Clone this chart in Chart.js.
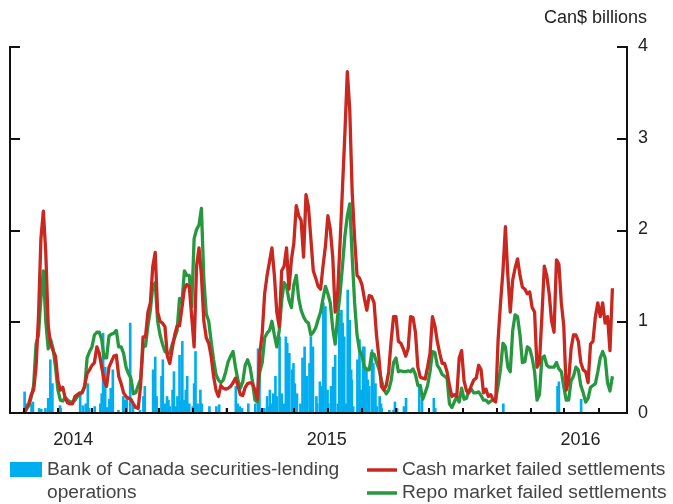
<!DOCTYPE html>
<html>
<head>
<meta charset="utf-8">
<script src="https://cdn.jsdelivr.net/npm/chart.js@4/dist/chart.umd.min.js"></script>
<style>
  html, body { margin: 0; padding: 0; background: #fff; }
  canvas { display: block; }
</style>
</head>
<body>
<canvas id="chart" width="673" height="504"></canvas>
<script>
// half-weekly series, Can$ billions (first point = day 20 of the axis, then every 3.5 days)
const cashFails = [
  0.01, 0.05, 0.1, 0.2, 0.25, 0.5, 1.05, 1.9, 2.2, 1.75,
  0.95, 0.75, 0.68, 0.62, 0.35, 0.25, 0.28, 0.16, 0.11, 0.1,
  0.1, 0.18, 0.2, 0.22, 0.22, 0.3, 0.43, 0.47, 0.52, 0.55,
  0.72, 0.65, 0.5, 0.35, 0.29, 0.5, 0.56, 0.62, 0.63, 0.4,
  0.32, 0.22, 0.18, 0.16, 0.15, 0.1, 0.06, 0.05, 0.3, 0.83,
  0.83, 1.1, 1.2, 1.6, 1.75, 1.1, 1.0, 0.98, 0.94, 0.62,
  0.54, 0.7, 0.85, 0.95, 0.95, 1.15, 1.35, 1.4, 1.38, 1.05,
  0.72, 1.6, 1.8, 1.5, 1.0, 0.82, 0.76, 0.62, 0.4, 0.25,
  0.18, 0.3, 0.27, 0.26, 0.27, 0.29, 0.33, 0.38, 0.3, 0.2,
  0.19, 0.28, 0.32, 0.33, 0.32, 0.25, 0.15, 0.65, 0.87, 1.3,
  1.5, 1.65, 1.8, 1.5, 1.1, 0.94, 1.55, 1.6, 1.8, 1.35,
  1.67, 1.85, 2.26, 2.15, 2.1, 1.7, 2.38, 2.25, 1.9, 1.55,
  1.47, 1.38, 1.35, 1.6, 1.82, 2.15, 2.0, 1.7, 1.1, 1.3,
  1.85, 2.45, 3.05, 3.72, 3.3, 2.4, 1.9, 1.5, 1.47, 1.4,
  1.25, 1.12, 1.28, 1.27, 1.2, 0.85, 0.6, 0.29, 0.25, 0.3,
  0.45, 0.78, 1.05, 1.05, 0.78, 0.76, 0.7, 0.62, 0.7, 1.05,
  1.04, 0.88, 0.5, 0.39, 0.38, 0.37, 0.5, 0.65, 1.05, 0.95,
  0.78, 0.65, 0.54, 0.54, 0.45, 0.3, 0.18, 0.2, 0.18, 0.6,
  0.68, 0.35, 0.24, 0.22, 0.3, 0.36, 0.38, 0.52, 0.47, 0.22,
  0.26, 0.18, 0.2, 0.14, 0.12, 0.8, 1.2, 1.55, 2.03, 1.5,
  1.1, 1.45, 1.58, 1.68, 1.5, 1.37, 1.35, 1.3, 1.32, 1.15,
  1.1, 0.5, 0.55, 1.05, 1.6, 1.5, 1.3, 1.0, 0.88, 1.67,
  1.62, 1.2, 0.95, 0.25, 0.35, 0.7, 0.85, 0.85, 0.78, 0.55,
  0.47, 0.45, 0.33, 0.75, 0.78, 1.05, 1.2, 1.05, 1.2, 0.98,
  1.05, 0.68, 1.36
];
const repoFails = [
  0.0, 0.04, 0.08, 0.17, 0.3, 0.75, 0.85, 1.25, 1.55, 1.0,
  0.7, 0.8, 0.7, 0.5, 0.25, 0.14, 0.13, 0.17, 0.14, 0.12,
  0.12, 0.14, 0.18, 0.2, 0.23, 0.28, 0.6, 0.67, 0.72, 0.85,
  0.88, 0.88, 0.8, 0.6, 0.6, 0.84, 0.86, 0.87, 0.9, 0.72,
  0.72, 0.65, 0.5, 0.43, 0.38, 0.21, 0.22, 0.3, 0.37, 0.72,
  0.73, 0.95, 1.12, 1.38, 1.42, 1.0, 0.85, 0.75, 0.67, 0.65,
  0.65, 0.75, 0.82, 0.9, 1.25, 1.2, 1.55, 1.5, 1.5, 1.16,
  1.9, 2.0, 2.05, 2.23, 1.45, 1.08, 1.0, 0.78, 0.58, 0.42,
  0.36, 0.33, 0.36, 0.45, 0.56, 0.62, 0.67, 0.5, 0.36, 0.27,
  0.34, 0.52, 0.58, 0.5, 0.34, 0.14, 0.12, 0.45, 0.55, 0.82,
  0.87, 0.9, 1.0, 0.85, 0.72, 0.9, 1.22, 1.42, 1.38, 1.23,
  1.15, 1.4, 1.5, 1.25, 1.12, 1.05, 1.0, 0.98, 0.85, 0.88,
  0.93, 1.02, 1.1, 1.25, 1.38, 1.3, 1.2, 0.92, 0.75, 1.05,
  1.3, 1.6, 1.93, 2.15, 2.28, 1.7, 1.2, 0.85, 0.68, 0.63,
  0.5, 0.47, 0.47, 0.65, 0.64, 0.55, 0.48, 0.36, 0.26, 0.21,
  0.25, 0.35, 0.55, 0.6, 0.45, 0.46, 0.45, 0.45, 0.46, 0.45,
  0.48, 0.42, 0.3, 0.3, 0.15, 0.22, 0.3, 0.45, 0.67, 0.66,
  0.52, 0.48, 0.42, 0.4, 0.38, 0.1, 0.06, 0.12, 0.18, 0.12,
  0.27, 0.15, 0.16, 0.25, 0.26, 0.22, 0.22, 0.23, 0.19, 0.14,
  0.14, 0.11, 0.13, 0.14, 0.15, 0.3, 0.48, 0.76, 0.72, 0.5,
  0.45, 0.9, 1.07, 1.05, 0.85, 0.55, 0.56, 0.72, 0.7, 0.6,
  0.45, 0.14, 0.2, 0.6, 0.62, 0.52, 0.5, 0.5, 0.5, 0.55,
  0.48, 0.45, 0.29, 0.14, 0.14, 0.35, 0.4, 0.5, 0.47, 0.3,
  0.22, 0.12, 0.16, 0.28, 0.3, 0.32, 0.45, 0.6, 0.67, 0.6,
  0.33, 0.24, 0.4
];

// securities-lending operations: axis day and amount
const lendingDays = [
  21, 23, 31, 33, 42, 45, 51, 55, 58, 61,
  72, 73, 101, 105, 109, 112, 114, 122, 130, 132,
  134, 137, 140, 143, 145, 148, 156, 163, 166, 168,
  173, 177, 187, 192, 194, 206, 209, 211, 218, 220,
  223, 226, 228, 230, 234, 236, 239, 241, 244, 246,
  248, 251, 253, 255, 258, 263, 265, 267, 270, 274,
  276, 287, 297, 301, 312, 325, 328, 331, 334, 343,
  353, 357, 359, 361, 364, 366, 370, 372, 374, 377,
  379, 382, 384, 388, 391, 394, 397, 399, 402, 406,
  408, 410, 413, 418, 421, 424, 427, 431, 433, 436,
  441, 442, 446, 449, 451, 454, 457, 458, 462, 465,
  468, 472, 474, 477, 479, 481, 484, 486, 489, 491,
  492, 494, 500, 503, 505, 508, 510, 513, 515, 517,
  521, 523, 526, 528, 532, 534, 535, 546, 552, 554,
  557, 567, 570, 589, 593, 610, 612, 710, 788, 790,
  822
];
const lendingValues = [
  0.23, 0.1, 0.1, 0.12, 0.05, 0.04, 0.05, 0.16, 0.58, 0.32,
  0.08, 0.05, 0.2, 0.08, 0.1, 0.32, 0.05, 0.07, 0.1, 0.21,
  0.87, 0.5, 0.06, 0.15, 0.27, 0.47, 0.03, 0.18, 0.14, 0.18,
  0.98, 0.1, 0.03, 0.18, 0.29, 0.47, 0.61, 0.18, 0.4, 0.58,
  0.1, 0.18, 0.14, 0.07, 0.25, 0.45, 0.07, 0.18, 0.63, 0.14,
  0.78, 0.14, 0.25, 0.4, 0.1, 0.07, 0.32, 0.67, 0.1, 0.25,
  0.1, 0.07, 0.07, 0.09, 0.05, 0.29, 0.1, 0.07, 0.05, 0.1,
  0.1, 0.7, 0.61, 0.03, 0.05, 0.05, 0.18, 0.07, 0.25, 0.1,
  0.21, 0.4, 0.18, 0.83, 0.21, 0.1, 0.83, 0.76, 0.65, 0.47,
  0.54, 0.32, 0.21, 0.1, 0.6, 0.72, 0.4, 0.54, 0.83, 0.72,
  0.18, 0.1, 0.34, 0.29, 1.2, 1.16, 0.25, 0.1, 0.29, 0.5,
  0.63, 0.1, 1.09, 1.12, 0.98, 0.83, 0.1, 1.34, 1.01, 0.47,
  0.36, 0.07, 0.58, 0.8, 0.25, 0.72, 0.72, 0.5, 0.36, 0.29,
  0.69, 0.54, 0.32, 0.07, 0.18, 0.1, 0.05, 0.03, 0.03, 0.12,
  0.05, 0.07, 0.16, 0.29, 0.14, 0.16, 0.05, 0.1, 0.29, 0.34,
  0.15
];

const yearLabels = ['2014', '2015', '2016'];
const yearTickDays = [91, 456, 821];
const minorTickDays = [20, 69, 118, 167, 215, 264, 313, 362, 409, 458, 507, 556, 603, 652, 701, 750, 798, 847];
const yTicks = [1, 2, 3, 4];
const firstDay = 20;
const stepDays = 3.5;

const FONT = "'Liberation Sans', Arial, Helvetica, sans-serif";
const RED = '#c8281f';
const GREEN = '#27983f';
const CYAN = '#00aeef';

Chart.defaults.font.family = FONT;

function toPoints(values) {
  return values.map((v, i) => ({ x: firstDay + stepDays * i, y: v }));
}

const framePlugin = {
  id: 'frame',
  afterDatasetsDraw(chart) {
    const { ctx, chartArea: a } = chart;
    const xs = chart.scales.x;
    const ys = chart.scales.y;
    ctx.save();
    ctx.strokeStyle = '#111';
    ctx.lineWidth = 2;
    ctx.beginPath();
    ctx.moveTo(a.left, a.top);
    ctx.lineTo(a.left, a.bottom);
    ctx.lineTo(a.right, a.bottom);
    ctx.lineTo(a.right, a.top);
    yTicks.forEach(v => {
      const py = Math.round(ys.getPixelForValue(v)) + 1;
      ctx.moveTo(a.left, py);
      ctx.lineTo(a.left + 10, py);
      ctx.moveTo(a.right - 10, py);
      ctx.lineTo(a.right, py);
    });
    minorTickDays.forEach(d => {
      const px = Math.round(xs.getPixelForValue(d));
      ctx.moveTo(px, a.bottom - 5);
      ctx.lineTo(px, a.bottom);
    });
    ctx.stroke();
    ctx.restore();
  },
  afterDraw(chart) {
    const ctx = chart.ctx;
    ctx.save();
    ctx.textBaseline = 'middle';
    ctx.fillStyle = '#222';
    ctx.font = '18px ' + FONT;
    ctx.textAlign = 'right';
    ctx.fillText('Can$ billions', 647, 18);

    ctx.textAlign = 'left';
    ctx.font = '19.2px ' + FONT;
    ctx.fillStyle = '#444';
    ctx.fillText('Bank of Canada securities-lending', 47, 470);
    ctx.fillText('operations', 47, 493);
    ctx.fillText('Cash market failed settlements', 402, 470);
    ctx.fillText('Repo market failed settlements', 402, 493);

    ctx.fillStyle = CYAN;
    ctx.fillRect(10, 462, 32, 15);
    ctx.lineWidth = 3.5;
    ctx.strokeStyle = RED;
    ctx.beginPath();
    ctx.moveTo(367, 470);
    ctx.lineTo(397, 470);
    ctx.stroke();
    ctx.strokeStyle = GREEN;
    ctx.beginPath();
    ctx.moveTo(367, 493);
    ctx.lineTo(397, 493);
    ctx.stroke();
    ctx.restore();
  }
};

new Chart(document.getElementById('chart'), {
  type: 'line',
  data: {
    datasets: [
      {
        label: 'Cash market failed settlements',
        data: toPoints(cashFails),
        borderColor: RED,
        borderWidth: 3.3,
        borderJoinStyle: 'round',
        pointRadius: 0,
        tension: 0,
        order: 1,
        clip: 6
      },
      {
        label: 'Repo market failed settlements',
        data: toPoints(repoFails),
        borderColor: GREEN,
        borderWidth: 3.3,
        borderJoinStyle: 'round',
        pointRadius: 0,
        tension: 0,
        order: 2,
        clip: 6
      },
      {
        type: 'bar',
        label: 'Bank of Canada securities-lending operations',
        data: lendingDays.map((d, i) => ({ x: d, y: lendingValues[i] })),
        backgroundColor: CYAN,
        borderWidth: 0,
        barThickness: 2,
        order: 3
      }
    ]
  },
  options: {
    responsive: false,
    animation: false,
    layout: { padding: { left: 10, top: 46, right: 0, bottom: 0 } },
    plugins: {
      legend: { display: false },
      tooltip: { enabled: false }
    },
    scales: {
      x: {
        type: 'linear',
        min: 0,
        max: 888,
        offset: false,
        grid: { display: false, drawTicks: false },
        border: { display: false },
        afterBuildTicks(scale) {
          scale.ticks = yearTickDays.map(v => ({ value: v }));
        },
        ticks: {
          autoSkip: false,
          maxRotation: 0,
          padding: 16,
          color: '#222',
          font: { size: 18 },
          callback: (v, i) => yearLabels[i]
        },
        afterFit(scale) { scale.height = 91; }
      },
      y: {
        position: 'right',
        min: 0,
        max: 4,
        grid: { display: false, drawTicks: false },
        border: { display: false },
        ticks: {
          stepSize: 1,
          padding: 11,
          color: '#222',
          font: { size: 18 }
        },
        afterFit(scale) { scale.width = 46; }
      }
    }
  },
  plugins: [framePlugin]
});
</script>
</body>
</html>
